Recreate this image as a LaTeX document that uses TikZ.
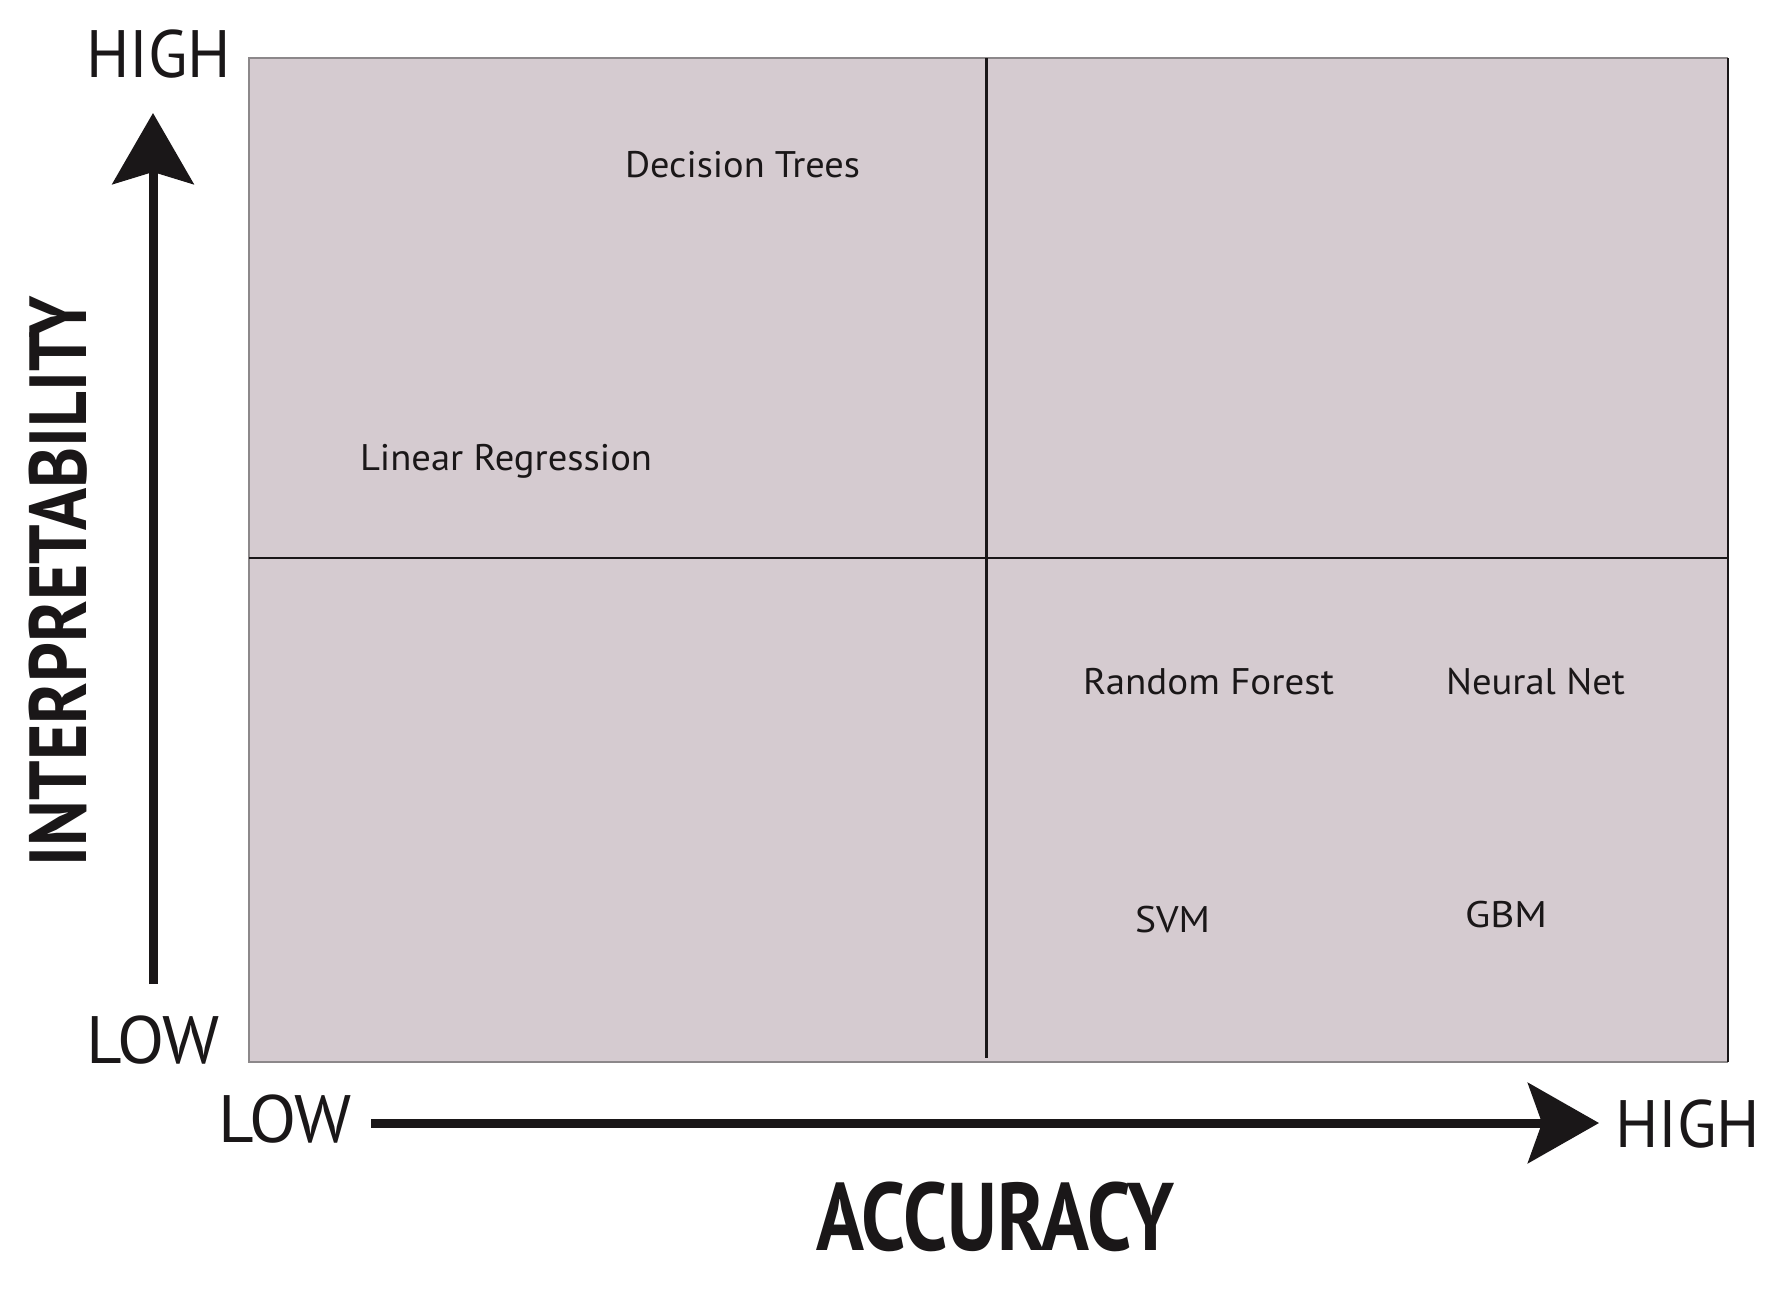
\documentclass[tikz,border=0pt]{standalone}
\usepackage{fontspec}
\setmainfont{PT Sans}
\usetikzlibrary{arrows.meta}
\definecolor{quadfill}{RGB}{213,203,208}
\definecolor{ink}{RGB}{26,23,24}
\definecolor{edgegray}{RGB}{140,136,138}
\newcommand\fitw[2]{\resizebox{#1}{\height}{#2}}
\begin{document}
\begin{tikzpicture}[x=1pt,y=-1pt,
  lbl/.style={inner sep=0pt, outer sep=0pt, anchor=base west, text=ink},
  item/.style={lbl, font=\fontsize{37}{37}\selectfont},
  level/.style={lbl, font=\fontsize{67}{67}\selectfont},
  axistitle/.style={lbl, font=\bfseries},
  axisarrow/.style={draw=ink, line width=9pt}]
\useasboundingbox (0,0) rectangle (1782,1288);
\fill[white] (0,0) rectangle (1782,1288);
% quadrant area
\fill[quadfill] (249,58) rectangle (1728,1062);
\draw[edgegray, line width=1.5pt] (1728,58) -- (249,58) -- (249,1062) -- (1728,1062);
\draw[ink, line width=2.5pt] (1728,58) -- (1728,1062);
\draw[ink, line width=3pt] (986,58) -- (986,1058);
\draw[ink, line width=2pt] (249,558) -- (1728,558);
% axes
\coordinate (ystart) at (153,984);
\coordinate (yend) at (153,113);
\coordinate (xstart) at (371,1123);
\coordinate (xend) at (1599,1123);
\draw[axisarrow, -{Stealth[length=71pt,width=81pt,inset=12pt]}] (ystart) -- (yend);
\draw[axisarrow, -{Stealth[length=71pt,width=80pt,inset=14pt]}] (xstart) -- (xend);
% level labels
\node[level] (yhigh) at (86,77) {\fitw{145pt}{HIGH}};
\node[level] (ylow) at (86,1063) {\fitw{134pt}{LOW}};
\node[level] (xlow) at (218,1142) {\fitw{134pt}{LOW}};
\node[level] (xhigh) at (1615,1147) {\fitw{145pt}{HIGH}};
% axis titles
\node[axistitle, font=\bfseries\fontsize{96}{96}\selectfont] (xtitle) at (816,1250) {\fitw{358pt}{ACCURACY}};
\node[axistitle, rotate=90, font=\bfseries\fontsize{81}{81}\selectfont] (ytitle) at (86,866) {\fitw{570pt}{INTERPRETABILITY}};
% items
\node[item] (dt) at (625,177) {\fitw{235pt}{Decision Trees}};
\node[item] (lr) at (360,470) {\fitw{292pt}{Linear Regression}};
\node[item] (rf) at (1083,694) {\fitw{251pt}{Random Forest}};
\node[item] (nn) at (1446,694) {\fitw{179pt}{Neural Net}};
\node[item] (svm) at (1135,932) {\fitw{75pt}{SVM}};
\node[item] (gbm) at (1465,927) {\fitw{82pt}{GBM}};
\end{tikzpicture}
\end{document}
